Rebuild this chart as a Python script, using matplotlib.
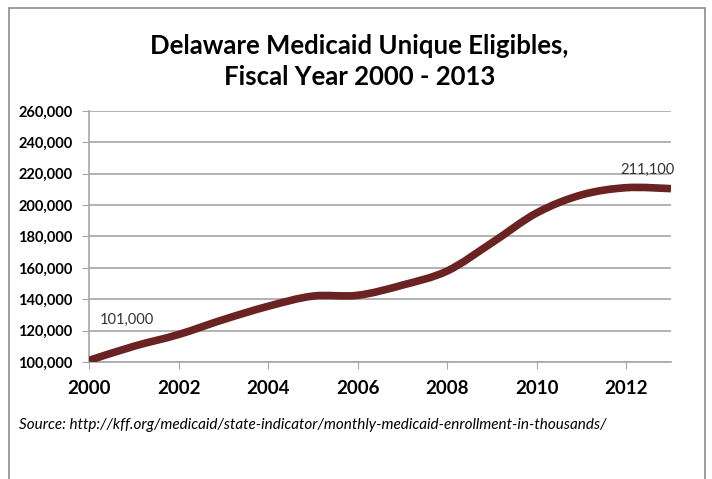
import matplotlib.pyplot as plt
from matplotlib.path import Path
from matplotlib.patches import PathPatch, Rectangle
from matplotlib.ticker import FuncFormatter

years = [2000, 2001, 2002, 2003, 2004, 2005, 2006, 2007, 2008, 2009, 2010, 2011, 2012, 2013]
eligibles = [101000, 110000, 117500, 127000, 135500, 142000, 142500, 149000, 158000,
             176000, 195000, 206500, 211100, 210500]
xtick_years = [2000, 2002, 2004, 2006, 2008, 2010, 2012]
yticks = list(range(100000, 260001, 20000))

line_color = "#6b2222"
grid_color = "#a6a6a6"

fig = plt.figure(figsize=(7.12, 4.79), dpi=100)
fig.patches.append(Rectangle((0.012, -0.01), 0.978, 0.993, transform=fig.transFigure,
                             fill=False, edgecolor="#8c8c8c", linewidth=1.2))

ax = fig.add_axes([0.125, 0.2443, 0.8174, 0.524])

# smoothed line (Excel-like), Catmull-Rom control points -> cubic Bezier
verts = [(years[0], eligibles[0])]
codes = [Path.MOVETO]
n = len(years)
for i in range(n - 1):
    x0, y0 = years[max(i - 1, 0)], eligibles[max(i - 1, 0)]
    x1, y1 = years[i], eligibles[i]
    x2, y2 = years[i + 1], eligibles[i + 1]
    x3, y3 = years[min(i + 2, n - 1)], eligibles[min(i + 2, n - 1)]
    c1 = (x1 + (x2 - x0) / 6, y1 + (y2 - y0) / 6)
    c2 = (x2 - (x3 - x1) / 6, y2 - (y3 - y1) / 6)
    verts += [c1, c2, (x2, y2)]
    codes += [Path.CURVE4] * 3
ax.add_patch(PathPatch(Path(verts, codes), facecolor="none", edgecolor=line_color,
                       linewidth=5.5, capstyle="butt", zorder=3))

ax.set_xlim(2000, 2013)
ax.set_ylim(100000, 260000)
ax.set_yticks(yticks)
ax.set_xticks(xtick_years)
ax.yaxis.set_major_formatter(FuncFormatter(lambda v, p: f"{int(v):,}"))
ax.grid(axis="y", color=grid_color, linewidth=1.2)
ax.set_axisbelow(True)

for s in ["top", "right"]:
    ax.spines[s].set_visible(False)
for s in ["left", "bottom"]:
    ax.spines[s].set_color(grid_color)
    ax.spines[s].set_linewidth(1.2)

ax.tick_params(axis="y", length=5, color=grid_color, pad=7)
ax.tick_params(axis="x", length=5, color=grid_color, pad=8)
for lab in ax.get_yticklabels():
    lab.set_fontfamily("Lato")
    lab.set_fontweight("bold")
    lab.set_fontsize(10.5)
for lab in ax.get_xticklabels():
    lab.set_fontfamily("Lato")
    lab.set_fontweight("bold")
    lab.set_fontsize(13.5)

ax.annotate(f"{eligibles[0]:,}", (years[0], eligibles[0]), xytext=(8, 26),
            textcoords="offset points", fontsize=10.5, family="Lato", color="#333333")
ax.annotate(f"{eligibles[12]:,}", (years[12], eligibles[12]), xytext=(15, 10),
            textcoords="offset points", ha="center", fontsize=10.5, family="Lato",
            color="#333333")

fig.text(0.505, 0.905, "Delaware Medicaid Unique Eligibles,", ha="center", va="center",
         fontsize=18.5, fontweight="bold", family="Lato")
fig.text(0.505, 0.84, "Fiscal Year 2000 - 2013", ha="center", va="center",
         fontsize=18.5, fontweight="bold", family="Lato")
fig.text(0.026, 0.113, "Source: http://kff.org/medicaid/state-indicator/monthly-medicaid-enrollment-in-thousands/",
         ha="left", va="center", fontsize=11, style="italic", family="Lato")

fig.savefig("out.png", dpi=100)
